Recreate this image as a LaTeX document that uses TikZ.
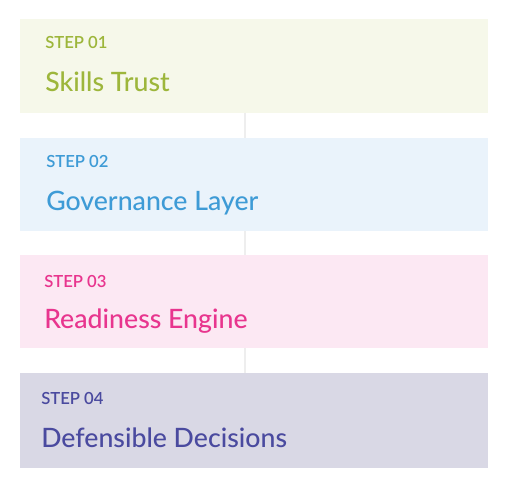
\documentclass[tikz,border=0pt]{standalone}
\usepackage{fontspec}
\setmainfont{Lato}
\newfontfamily\latosemi{Lato Semibold}
\newfontfamily\latomedium{Lato Medium}
\definecolor{trustfill}{HTML}{F6F8EA}
\definecolor{trustink}{HTML}{9DB63B}
\definecolor{govfill}{HTML}{EAF3FB}
\definecolor{govink}{HTML}{3E9BD6}
\definecolor{readyfill}{HTML}{FCE8F3}
\definecolor{readyink}{HTML}{E8358E}
\definecolor{decfill}{HTML}{D9D8E5}
\definecolor{decink}{HTML}{4A4A9F}
\definecolor{spinegray}{HTML}{EEEEEE}
\begin{document}
\begin{tikzpicture}[x=0.75pt,y=-0.75pt,
  stepbox/.style={anchor=north west, inner sep=0pt, outer sep=0pt,
    minimum width=351pt, minimum height=69.75pt},
  steplabel/.style={anchor=base west, inner sep=0pt,
    font=\fontsize{12.5}{14}\selectfont\latosemi},
  steptitle/.style={anchor=base west, inner sep=0pt,
    font=\fontsize{20}{24}\selectfont\latomedium},
  link/.style={draw=spinegray, line width=1.5pt}]
\useasboundingbox (0,0) rectangle (505,485);
\coordinate (spine) at (245,0);
%% boxes
\node[stepbox, fill=trustfill] (box1) at (20,19.5) {};
\node[stepbox, fill=govfill] (box2) at (20,138) {};
\node[stepbox, fill=readyfill] (box3) at (20,255) {};
\node[stepbox, fill=decfill, minimum height=71.25pt] (box4) at (20,373) {};
%% links
\draw[link] (spine |- box1.south) -- (spine |- box2.north);
\draw[link] (spine |- box2.south) -- (spine |- box3.north);
\draw[link] (spine |- box3.south) -- (spine |- box4.north);
%% texts
\node[steplabel, text=trustink] (lab1) at (45,49) {STEP 01};
\node[steptitle, text=trustink] (title1) at (45,91) {Skills Trust};
\node[steplabel, text=govink] (lab2) at (46,167.5) {STEP 02};
\node[steptitle, text=govink] (title2) at (46,210) {Governance Layer};
\node[steplabel, text=readyink] (lab3) at (44,287.5) {STEP 03};
\node[steptitle, text=readyink] (title3) at (44,328.5) {Readiness Engine};
\node[steplabel, text=decink] (lab4) at (41,404) {STEP 04};
\node[steptitle, text=decink] (title4) at (41,447) {Defensible Decisions};
\end{tikzpicture}
\end{document}
